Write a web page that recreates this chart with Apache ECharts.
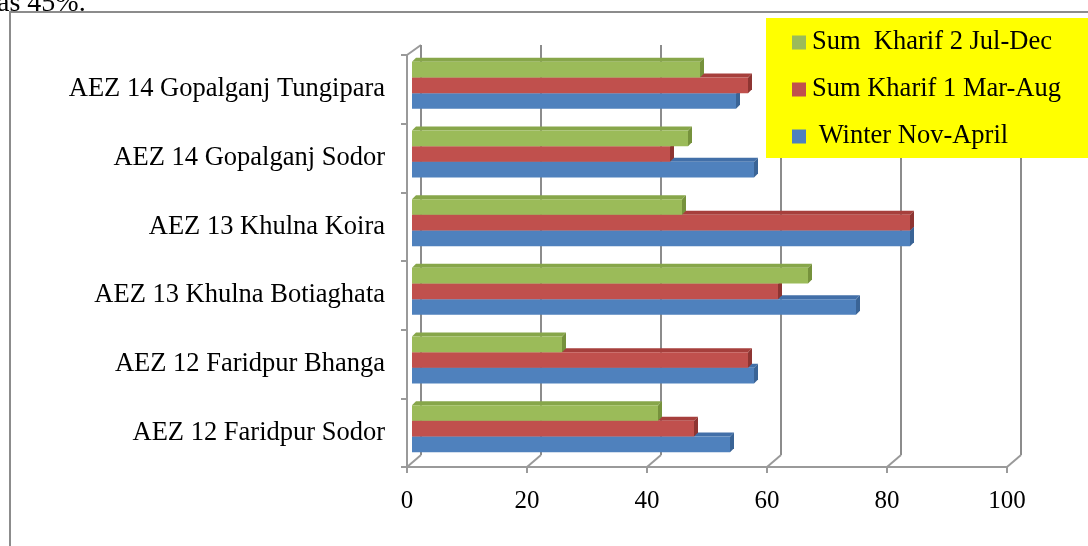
<!DOCTYPE html>
<html>
<head>
<meta charset="utf-8">
<script src="https://cdn.jsdelivr.net/npm/echarts@6/dist/echarts.min.js"></script>
<style>html,body{margin:0;padding:0;background:#fff;}#c{width:1088px;height:546px;}</style>
</head>
<body>
<div id="c"></div>
<script>
var categories = ['AEZ 12 Faridpur Sodor', 'AEZ 12 Faridpur Bhanga', 'AEZ 13 Khulna Botiaghata', 'AEZ 13 Khulna Koira', 'AEZ 14 Gopalganj Sodor', 'AEZ 14 Gopalganj Tungipara'];
var winter = [53, 57, 74, 83, 57, 54];
var kharif1 = [47, 56, 61, 83, 43, 56];
var kharif2 = [41, 25, 66, 45, 46, 48];
var seriesNames = [' Winter Nov-April', 'Sum Kharif 1 Mar-Aug', 'Sum  Kharif 2 Jul-Dec'];
var xTicks = [0, 20, 40, 60, 80, 100];

var FONT = '"Liberation Serif", "Times New Roman", serif';
var colors = ['#4F81BD', '#C0504D', '#9BBB59'];
var sideColors = ['#3A6496', '#8E3532', '#76923C'];
var topColors = ['#426FA8', '#A63F3C', '#87A64A'];
var DEPTH = 4;

function barRenderer(k) {
  // k: 0 blue (bottom), 1 red (middle), 2 green (top)
  return function (params, api) {
    var val = api.value(0), ci = api.value(1);
    var p0 = api.coord([0, ci]);
    var p1 = api.coord([val, ci]);
    var band = api.size([0, 1])[1];
    var h = band * 0.685 / 3;
    var yTop = p0[1] + 1.5 * h - (k + 1) * h;
    var x0 = p0[0], x1 = p1[0], d = DEPTH;
    return {
      type: 'group',
      children: [
        { type: 'polygon', shape: { points: [[x0, yTop], [x0 + d, yTop - d], [x1 + d, yTop - d], [x1, yTop]] }, style: { fill: topColors[k] } },
        { type: 'polygon', shape: { points: [[x1, yTop], [x1 + d, yTop - d], [x1 + d, yTop + h - d], [x1, yTop + h]] }, style: { fill: sideColors[k] } },
        { type: 'rect', shape: { x: x0, y: yTop, width: x1 - x0, height: h }, style: { fill: colors[k] } }
      ]
    };
  };
}

function toData(arr) { return arr.map(function (v, i) { return [v, i]; }); }

var chart = echarts.init(document.getElementById('c'), null, { renderer: 'canvas' });
var option = {
  animation: false,
  backgroundColor: '#ffffff',
  textStyle: { fontFamily: FONT },
  grid: [
    { left: 407, width: 600, top: 55, height: 412 },
    { left: 421, width: 600, top: 45, height: 410 },
    { left: 412, width: 600, top: 51, height: 412 }
  ],
  xAxis: [
    { gridIndex: 0, type: 'value', min: 0, max: 100, interval: 20,
      axisLine: { show: true, lineStyle: { color: '#9a9a9a', width: 2 } },
      axisTick: { show: true, length: 6, lineStyle: { color: '#9a9a9a', width: 2 } },
      axisLabel: { color: '#000', fontSize: 25, fontFamily: FONT, margin: 22 },
      splitLine: { show: false } },
    { gridIndex: 1, type: 'value', min: 0, max: 100, interval: 20,
      axisLine: { show: false }, axisTick: { show: false }, axisLabel: { show: false },
      splitLine: { show: true, lineStyle: { color: '#8c8c8c', width: 2 } } },
    { gridIndex: 2, type: 'value', min: 0, max: 100, interval: 20, show: false, splitLine: { show: false } }
  ],
  yAxis: [
    { gridIndex: 0, type: 'category', data: categories,
      axisLine: { show: true, lineStyle: { color: '#9a9a9a', width: 2 } },
      axisTick: { show: true, length: 6, lineStyle: { color: '#9a9a9a', width: 2 } },
      axisLabel: { color: '#000', fontSize: 26.5, fontFamily: FONT, margin: 22, padding: [8, 0, 0, 0] } },
    { gridIndex: 1, type: 'category', data: categories, show: false },
    { gridIndex: 2, type: 'category', data: categories, show: false }
  ],
  legend: {
    orient: 'vertical',
    left: 766, top: 18,
    backgroundColor: '#FFFF00',
    padding: [11, 34, 8, 26],
    itemWidth: 14, itemHeight: 14, itemGap: 20,
    icon: 'rect',
    data: [seriesNames[2], seriesNames[1], seriesNames[0]],
    textStyle: { color: '#000', fontSize: 26.5, fontFamily: FONT, lineHeight: 26, padding: [0, 0, 0, 1] }
  },
  graphic: [
    { type: 'rect', shape: { x: 10, y: 12, width: 1200, height: 700 }, style: { fill: 'none', stroke: '#8c8c8c', lineWidth: 2 }, z: -1 },
    { type: 'text', x: -3, y: 18, style: { text: 'as 45%.', font: '28px ' + FONT, fill: '#000', verticalAlign: 'bottom' } },
    { type: 'polyline', shape: { points: [[407, 55], [421, 45]] }, style: { stroke: '#9a9a9a', lineWidth: 2 } }
  ],
  series: [
    { type: 'custom', name: 'floor', xAxisIndex: 0, yAxisIndex: 0, data: xTicks.map(function (v) { return [v, 0]; }),
      encode: { x: 0, y: 1 }, silent: true, z: 1,
      renderItem: function (params, api) {
        var cs = params.coordSys;
        var x = api.coord([api.value(0), 0])[0];
        var yb = cs.y + cs.height;
        return { type: 'line', shape: { x1: x, y1: yb, x2: x + 14, y2: yb - 12 }, style: { stroke: '#9a9a9a', lineWidth: 2 } };
      } },
    { type: 'custom', name: seriesNames[0], xAxisIndex: 2, yAxisIndex: 2, data: toData(winter), encode: { x: 0, y: 1 }, itemStyle: { color: colors[0] }, renderItem: barRenderer(0), z: 3 },
    { type: 'custom', name: seriesNames[1], xAxisIndex: 2, yAxisIndex: 2, data: toData(kharif1), encode: { x: 0, y: 1 }, itemStyle: { color: colors[1] }, renderItem: barRenderer(1), z: 4 },
    { type: 'custom', name: seriesNames[2], xAxisIndex: 2, yAxisIndex: 2, data: toData(kharif2), encode: { x: 0, y: 1 }, itemStyle: { color: colors[2] }, renderItem: barRenderer(2), z: 5 }
  ]
};
chart.setOption(option);
</script>
</body>
</html>
